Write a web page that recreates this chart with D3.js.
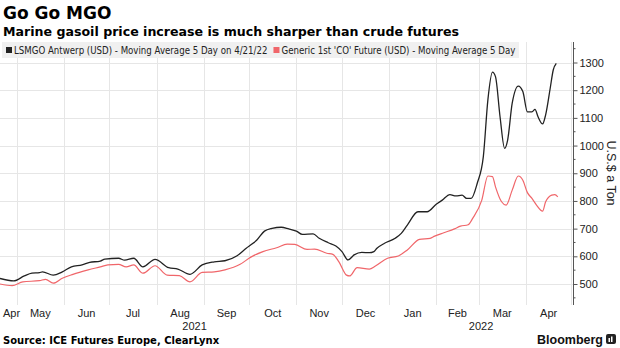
<!DOCTYPE html>
<html>
<head>
<meta charset="utf-8">
<script src="https://cdn.jsdelivr.net/npm/d3@7"></script>
<style>
  body { margin: 0; background: white; }
  svg { display: block; }
</style>
</head>
<body>
<div id="graphique"></div>
<script>
// Séries : LSMGO Anvers (noir) et Brent 1er contrat (rouge), moyennes mobiles 5 jours
const datesLsmgo = ["2021-04-20","2021-04-29","2021-05-06","2021-05-11","2021-05-16","2021-05-18","2021-05-25","2021-05-31",
  "2021-06-06","2021-06-13","2021-06-18","2021-06-25","2021-06-28","2021-07-07","2021-07-11","2021-07-17","2021-07-23","2021-07-31",
  "2021-08-09","2021-08-15","2021-08-23","2021-08-31","2021-09-08","2021-09-15","2021-09-23","2021-09-29","2021-10-03","2021-10-06",
  "2021-10-11","2021-10-16","2021-10-22","2021-10-27","2021-11-01","2021-11-05","2021-11-12","2021-11-16","2021-11-22","2021-11-27",
  "2021-12-01","2021-12-05","2021-12-09","2021-12-14","2021-12-19","2021-12-22","2021-12-24","2021-12-29","2022-01-05","2022-01-09",
  "2022-01-13","2022-01-20","2022-01-26","2022-02-01","2022-02-05","2022-02-10","2022-02-14","2022-02-18","2022-02-21","2022-02-24",
  "2022-02-28","2022-03-04","2022-03-07","2022-03-10","2022-03-12","2022-03-15","2022-03-18","2022-03-20","2022-03-23","2022-03-27",
  "2022-03-30","2022-04-02","2022-04-05","2022-04-07","2022-04-09","2022-04-12","2022-04-14","2022-04-17","2022-04-19","2022-04-21"];
const valeursLsmgo = [520,511,529,539,541,544,532,544,
  562,569,578,583,590,593,586,593,562,589,
  559,554,535,569,580,584,602,629,645,659,
  691,701,705,699,691,679,681,665,649,637,
  617,587,605,614,613,617,629,647,665,683,
  713,761,761,788,803,823,818,821,809,809,
  864,960,1165,1265,1249,1104,990,1020,1153,1215,
  1195,1122,1122,1131,1104,1078,1111,1207,1273,1297];

const datesBrent = ["2021-04-20","2021-04-28","2021-05-05","2021-05-16","2021-05-20","2021-05-25","2021-05-31","2021-06-07",
  "2021-06-17","2021-06-25","2021-06-30","2021-07-07","2021-07-12","2021-07-17","2021-07-23","2021-07-31","2021-08-08","2021-08-16",
  "2021-08-23","2021-08-31","2021-09-08","2021-09-15","2021-09-25","2021-10-02","2021-10-10","2021-10-19","2021-10-26","2021-10-31",
  "2021-11-08","2021-11-13","2021-11-21","2021-11-25","2021-11-29","2021-12-04","2021-12-06","2021-12-11","2021-12-19","2021-12-23",
  "2021-12-31","2022-01-07","2022-01-13","2022-01-21","2022-01-28","2022-01-31","2022-02-06","2022-02-13","2022-02-17","2022-02-22",
  "2022-02-25","2022-03-03","2022-03-07","2022-03-10","2022-03-12","2022-03-16","2022-03-19","2022-03-23","2022-03-27","2022-03-30",
  "2022-04-02","2022-04-05","2022-04-08","2022-04-12","2022-04-14","2022-04-18","2022-04-20","2022-04-22"];
const valeursBrent = [500,494,508,512,517,503,521,535,
  551,562,569,571,562,569,539,566,532,530,
  508,542,544,551,571,597,617,631,644,643,
  625,626,611,607,580,532,529,559,554,565,
  593,601,623,661,665,673,685,699,709,714,
  737,803,890,888,851,797,785,839,890,875,
  830,809,785,763,797,821,823,815];

const ticksY = [500, 600, 700, 800, 900, 1000, 1100, 1200, 1300];
const ticksMineursY = [450, 550, 650, 750, 850, 950, 1050, 1150, 1250, 1350];
const annees = [2021, 2022];

const legende = [
  {texte: "LSMGO Antwerp (USD) - Moving Average 5 Day on 4/21/22", couleur: "#222222"},
  {texte: "Generic 1st 'CO' Future (USD) - Moving Average 5 Day", couleur: "#f0666a"}
];

const largeur = 620, hauteur = 348;
const haut = 42, bas = 305, droite = 573;
const lire = d3.timeParse("%Y-%m-%d");

const x = d3.scaleTime().domain([lire("2021-04-20"), lire("2022-05-02")]).range([0, droite]);
const y = d3.scaleLinear().domain([500, 1300]).range([284, 62.5]);

const svg = d3.select("#graphique").append("svg")
  .attr("width", largeur)
  .attr("height", hauteur);

// Titre et sous-titre
svg.append("text").attr("x", 3).attr("y", 19)
  .attr("font-family", "DejaVu Sans").attr("font-weight", "bold").attr("font-size", 17)
  .attr("fill", "#000").text("Go Go MGO");
svg.append("text").attr("x", 3).attr("y", 35.5)
  .attr("font-family", "DejaVu Sans").attr("font-weight", "bold").attr("font-size", 12.6)
  .attr("fill", "#000").text("Marine gasoil price increase is much sharper than crude futures");

// Grille
const mois = d3.timeMonth.range(x.domain()[0], x.domain()[1]);
svg.selectAll(".grilleX").data(mois).enter().append("line")
  .attr("class", "grilleX")
  .attr("x1", d => Math.round(x(d)) + 0.5).attr("x2", d => Math.round(x(d)) + 0.5)
  .attr("y1", haut).attr("y2", bas)
  .attr("stroke", "#e6e6e6");
svg.selectAll(".grilleY").data(ticksY).enter().append("line")
  .attr("class", "grilleY")
  .attr("x1", 0).attr("x2", droite)
  .attr("y1", d => Math.round(y(d)) + 0.5).attr("y2", d => Math.round(y(d)) + 0.5)
  .attr("stroke", "#e6e6e6");

// Légende sur fond gris
svg.append("rect").attr("x", 2).attr("y", 42).attr("width", 517).attr("height", 16).attr("fill", "#f0f0f0");
let xLeg = 6;
legende.forEach((l, i) => {
  svg.append("rect").attr("x", xLeg).attr("y", 47).attr("width", 6).attr("height", 6).attr("fill", l.couleur);
  const t = svg.append("text").attr("x", xLeg + 8).attr("y", 53.5)
    .attr("font-family", "DejaVu Sans Condensed, DejaVu Sans").attr("font-size", 9.6).attr("fill", "#222")
    .text(l.texte);
  xLeg += 8 + t.node().getComputedTextLength() + 6;
});

// Axe de droite
const axeY = d3.axisRight(y).tickValues(ticksY).tickSize(4).tickPadding(2).tickFormat(d3.format("d"));
const gAxe = svg.append("g").attr("transform", `translate(${droite + 0.5},0)`).call(axeY);
gAxe.select(".domain").remove();
gAxe.selectAll("text").attr("font-family", "Liberation Sans").attr("font-size", 11).attr("fill", "#222");
gAxe.selectAll("line").attr("stroke", "#555");
svg.append("line").attr("x1", droite + 0.5).attr("x2", droite + 0.5).attr("y1", haut).attr("y2", bas).attr("stroke", "#555");
svg.selectAll(".mineur").data(ticksMineursY).enter().append("line")
  .attr("x1", droite).attr("x2", droite + 2.5)
  .attr("y1", d => y(d)).attr("y2", d => y(d))
  .attr("stroke", "#555");
svg.append("text")
  .attr("transform", `translate(607,173) rotate(90)`)
  .attr("text-anchor", "middle")
  .attr("font-family", "Liberation Sans").attr("font-size", 12.5).attr("fill", "#222")
  .text("U.S.$ a Ton");

// Étiquettes des mois, centrées sur la partie visible du mois (on saute les bouts trop courts)
const debutsMois = d3.timeMonth.range(d3.timeMonth.floor(x.domain()[0]), x.domain()[1]);
debutsMois.forEach(d => {
  const a = Math.max(x(d), 0), b = Math.min(x(d3.timeMonth.offset(d, 1)), droite);
  if (b - a < 12) return;
  let c = (a + b) / 2;
  const t = svg.append("text").attr("y", 317)
    .attr("text-anchor", "middle")
    .attr("font-family", "Liberation Sans").attr("font-size", 11).attr("fill", "#222")
    .text(d3.timeFormat("%b")(d));
  const w = t.node().getComputedTextLength();
  if (c - w / 2 < 3) c = 3 + w / 2;
  t.attr("x", c);
});
annees.forEach(an => {
  const a = Math.max(x(new Date(an, 0, 1)), 0), b = Math.min(x(new Date(an + 1, 0, 1)), droite);
  svg.append("text").attr("x", (a + b) / 2).attr("y", 330)
    .attr("text-anchor", "middle")
    .attr("font-family", "Liberation Sans").attr("font-size", 11).attr("fill", "#222")
    .text(an);
});

// Courbes
function tracerCourbe(dates, valeurs, couleur, epaisseur) {
  const points = dates.map((d, i) => [lire(d), valeurs[i]]);
  svg.append("path")
    .datum(points)
    .attr("d", d3.line().x(p => x(p[0])).y(p => y(p[1])).curve(d3.curveMonotoneX))
    .attr("fill", "none")
    .attr("stroke", couleur)
    .attr("stroke-width", epaisseur)
    .attr("stroke-linejoin", "round");
}
tracerCourbe(datesBrent, valeursBrent, legende[1].couleur, 1.2);
tracerCourbe(datesLsmgo, valeursLsmgo, legende[0].couleur, 1.3);

// Pied de page
svg.append("text").attr("x", 3).attr("y", 344)
  .attr("font-family", "DejaVu Sans").attr("font-weight", "bold").attr("font-size", 10)
  .attr("fill", "#000").text("Source: ICE Futures Europe, ClearLynx");
svg.append("text").attr("x", 603).attr("y", 344).attr("text-anchor", "end")
  .attr("font-family", "Liberation Sans").attr("font-weight", "bold").attr("font-size", 12.5)
  .attr("fill", "#111").text("Bloomberg");
svg.append("rect").attr("x", 606).attr("y", 334).attr("width", 10).attr("height", 10).attr("rx", 2).attr("fill", "#222");
svg.append("rect").attr("x", 608.5).attr("y", 338).attr("width", 1.5).attr("height", 4).attr("fill", "#fff");
svg.append("rect").attr("x", 611).attr("y", 336.5).attr("width", 1.5).attr("height", 5.5).attr("fill", "#fff");
</script>
</body>
</html>
